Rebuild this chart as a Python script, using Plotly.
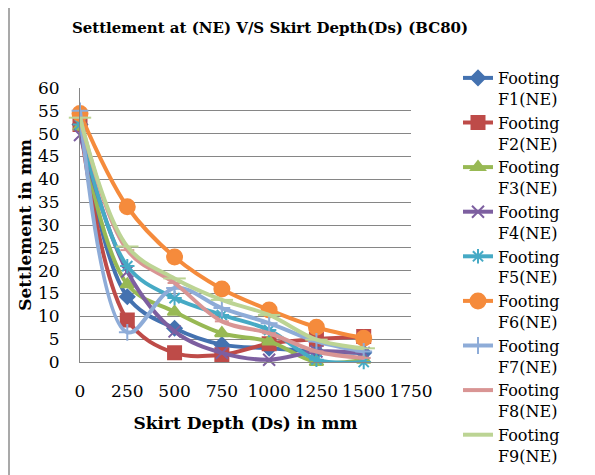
import plotly.graph_objects as go

# Skirt depth (mm)
skirt_depth = [0, 250, 500, 750, 1000, 1250, 1500]

# Settlement (mm) for each footing
footing_names = ['Footing<br>F1(NE)', 'Footing<br>F2(NE)', 'Footing<br>F3(NE)',
                 'Footing<br>F4(NE)', 'Footing<br>F5(NE)', 'Footing<br>F6(NE)',
                 'Footing<br>F7(NE)', 'Footing<br>F8(NE)', 'Footing<br>F9(NE)']
f1 = [52.0, 14.3, 7.4, 3.8, 3.0, 2.3, 2.0]
f2 = [52.0, 9.2, 2.0, 1.6, 4.0, 5.0, 5.6]
f3 = [51.5, 17.0, 11.0, 6.3, 4.5, 0.0, 0.5]
f4 = [49.7, 19.8, 6.7, 2.0, 0.5, 2.3, 2.0]
f5 = [52.0, 21.0, 14.0, 10.3, 7.0, 0.5, 0.0]
f6 = [54.4, 34.0, 23.0, 16.0, 11.4, 7.6, 5.2]
f7 = [55.0, 6.5, 16.2, 11.8, 8.5, 4.5, 2.3]
f8 = [53.5, 24.5, 17.3, 8.9, 6.3, 2.3, 0.9]
f9 = [53.5, 25.3, 18.3, 13.6, 10.3, 4.9, 3.0]

series = [f1, f2, f3, f4, f5, f6, f7, f8, f9]
colors = ['#4472B0', '#BE4B48', '#98B954', '#7D5FA0', '#46AAC5',
          '#F58B3C', '#8EACD8', '#D99594', '#BCD494']
symbols = ['diamond', 'square', 'triangle-up', 'x-thin-open', 'asterisk-open',
           'circle', 'cross-thin-open', 'line-ew-open', 'line-ew-open']
sizes = [11, 13, 12, 12, 12, 15, 12, 10, 16]

FONT = 'DejaVu Serif'
W, H = 595, 475
OFF = 8  # the page body adds an 8px margin, so everything is pulled back by it

# plot area in window pixels
PX0, PX1, PY0, PY1 = 80, 411, 88, 362

fig = go.Figure()
for name, vals, col, sym, sz in zip(footing_names, series, colors, symbols, sizes):
    fig.add_trace(go.Scatter(
        x=skirt_depth, y=vals, name=name,
        mode='lines+markers',
        line=dict(color=col, width=4, shape='spline', smoothing=1.0),
        marker=dict(symbol=sym, size=sz, color=col, line=dict(color=col, width=2)),
        cliponaxis=False,
    ))

fig.update_layout(
    width=W, height=H,
    margin=dict(l=PX0 - OFF, r=W - PX1 + OFF, t=PY0 - OFF, b=H - PY1 + OFF),
    paper_bgcolor='white', plot_bgcolor='white',
    font=dict(family=FONT, size=17, color='black'),
    title=dict(text='<b>Settlement at (NE) V/S Skirt Depth(Ds) (BC80)</b>',
               x=(270 - OFF) / W, xanchor='center', y=1 - (28 - OFF) / H, yanchor='middle',
               font=dict(size=15)),
    legend=dict(xref='container', yref='container', x=(458 - OFF) / W, y=1 - (61 - OFF) / H,
                xanchor='left', yanchor='top', valign='top', maxheight=430,
                font=dict(size=16), tracegroupgap=0, itemwidth=30,
                bgcolor='rgba(0,0,0,0)'),
    showlegend=True,
)

fig.update_xaxes(
    range=[0, 1750], dtick=250, tick0=0,
    showgrid=False, zeroline=False,
    showline=True, linecolor='#868686', linewidth=1,
    ticks='', tickfont=dict(size=17), ticklabelstandoff=14,
    title=dict(text='<b>Skirt Depth (Ds) in mm</b>', font=dict(size=17), standoff=16),
)
fig.update_yaxes(
    range=[0, 60], dtick=5,
    showgrid=True, gridcolor='#868686', gridwidth=1, zeroline=False,
    showline=True, linecolor='#868686', linewidth=1,
    ticks='', tickfont=dict(size=17), ticklabelstandoff=16,
    title=dict(text='<b>Settlement in mm</b>', font=dict(size=17), standoff=2),
)

# chart area border (left and top edges visible)
pw, ph = PX1 - PX0, PY1 - PY0
fig.add_shape(type='line', xref='paper', yref='paper',
              x0=(9 - PX0) / pw, x1=(9 - PX0) / pw, y0=(PY1 - 7) / ph, y1=(PY1 - 490) / ph,
              line=dict(color='#8c8c8c', width=1.5))
fig.add_shape(type='line', xref='paper', yref='paper',
              x0=(9 - PX0) / pw, x1=(610 - PX0) / pw, y0=(PY1 - 7) / ph, y1=(PY1 - 7) / ph,
              line=dict(color='#d4d4d4', width=1))

fig.write_html('out.html')
